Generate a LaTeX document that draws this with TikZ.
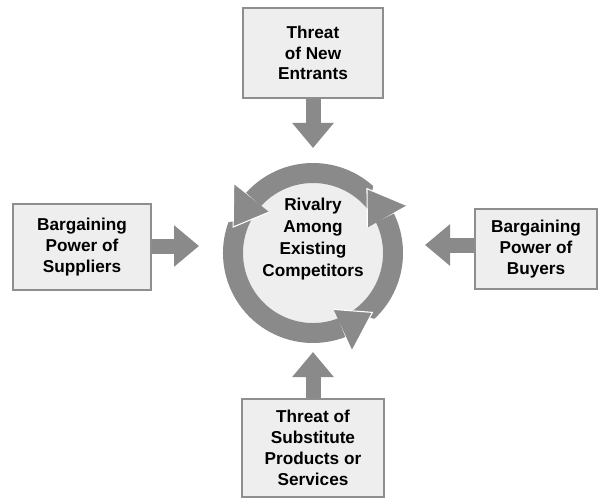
\documentclass[tikz,border=0pt]{standalone}
\usepackage{fontspec}
\setmainfont{Liberation Sans}
\usetikzlibrary{arrows.meta}
\definecolor{boxfill}{HTML}{EEEEEE}
\definecolor{boxline}{HTML}{8E8E8E}
\definecolor{forcegray}{HTML}{8A8A8A}

\begin{document}
\begin{tikzpicture}[x=1pt,y=1pt,
  forcebox/.style={draw=boxline, line width=1.8pt, fill=boxfill, align=center,
    font=\bfseries\fontsize{17.2}{20.8}\selectfont, inner sep=0pt},
  blockarrow/.style={draw=forcegray, line width=15pt,
    -{Triangle[width=40pt,length=25pt]}},
  ringbody/.style={fill=forcegray},
  ringedge/.style={draw=white, line width=1.1pt, line join=miter},
  ]
\useasboundingbox (0,0) rectangle (601,-497);

% the four outside forces
\node[forcebox, minimum width=140pt, minimum height=90pt] (entrants) at (313,-53)
  {Threat\\of New\\Entrants};
\node[forcebox, minimum width=138pt, minimum height=86pt] (suppliers) at (82,-247)
  {Bargaining\\Power of\\Suppliers};
\node[forcebox, minimum width=122pt, minimum height=80pt] (buyers) at (536,-249)
  {Bargaining\\Power of\\Buyers};
\node[forcebox, minimum width=142pt, minimum height=98pt] (substitutes) at (313,-448)
  {Threat of\\Substitute\\Products or\\Services};

% central rivalry wheel
\coordinate (hub) at (313,-253);
\fill[boxfill] (hub) circle (70);
\node[align=center, font=\bfseries\fontsize{17.2}{22}\selectfont] (rivalry) at (313,-239)
  {Rivalry\\Among\\Existing\\Competitors};

% circular arrow: each body starts under the head before it (start/end angles)
\foreach \so/\si/\b in {-47/-58/26, 48/38/138, 160/150/291}{
  \fill[ringbody, shift={(hub)}] (\so:90) arc[start angle=\so, end angle=\b, radius=90]
    -- (\b:70) arc[start angle=\b, end angle=\si, radius=70] -- cycle;
}
% heads on top, with a white edge where they meet the next body
\foreach \b in {26, 138, 291}{
  \fill[ringbody, shift={(hub)}] (\b+1:105) -- (\b+24:84) -- (\b-1:60) -- cycle;
  \draw[ringedge, shift={(hub)}] (\b+1:105) -- (\b+24:84) -- (\b-1:60);
}

% tips of the force arrows
\coordinate (entrantstip) at (313,-148);
\coordinate (supplierstip) at (199,-246);
\coordinate (buyerstip) at (425,-245);
\coordinate (substitutestip) at (313,-352);

\draw[blockarrow] (entrants.south) -- (entrantstip);
\draw[blockarrow] (suppliers.east |- supplierstip) -- (supplierstip);
\draw[blockarrow] (buyers.west |- buyerstip) -- (buyerstip);
\draw[blockarrow] (substitutes.north) -- (substitutestip);
\end{tikzpicture}
\end{document}
